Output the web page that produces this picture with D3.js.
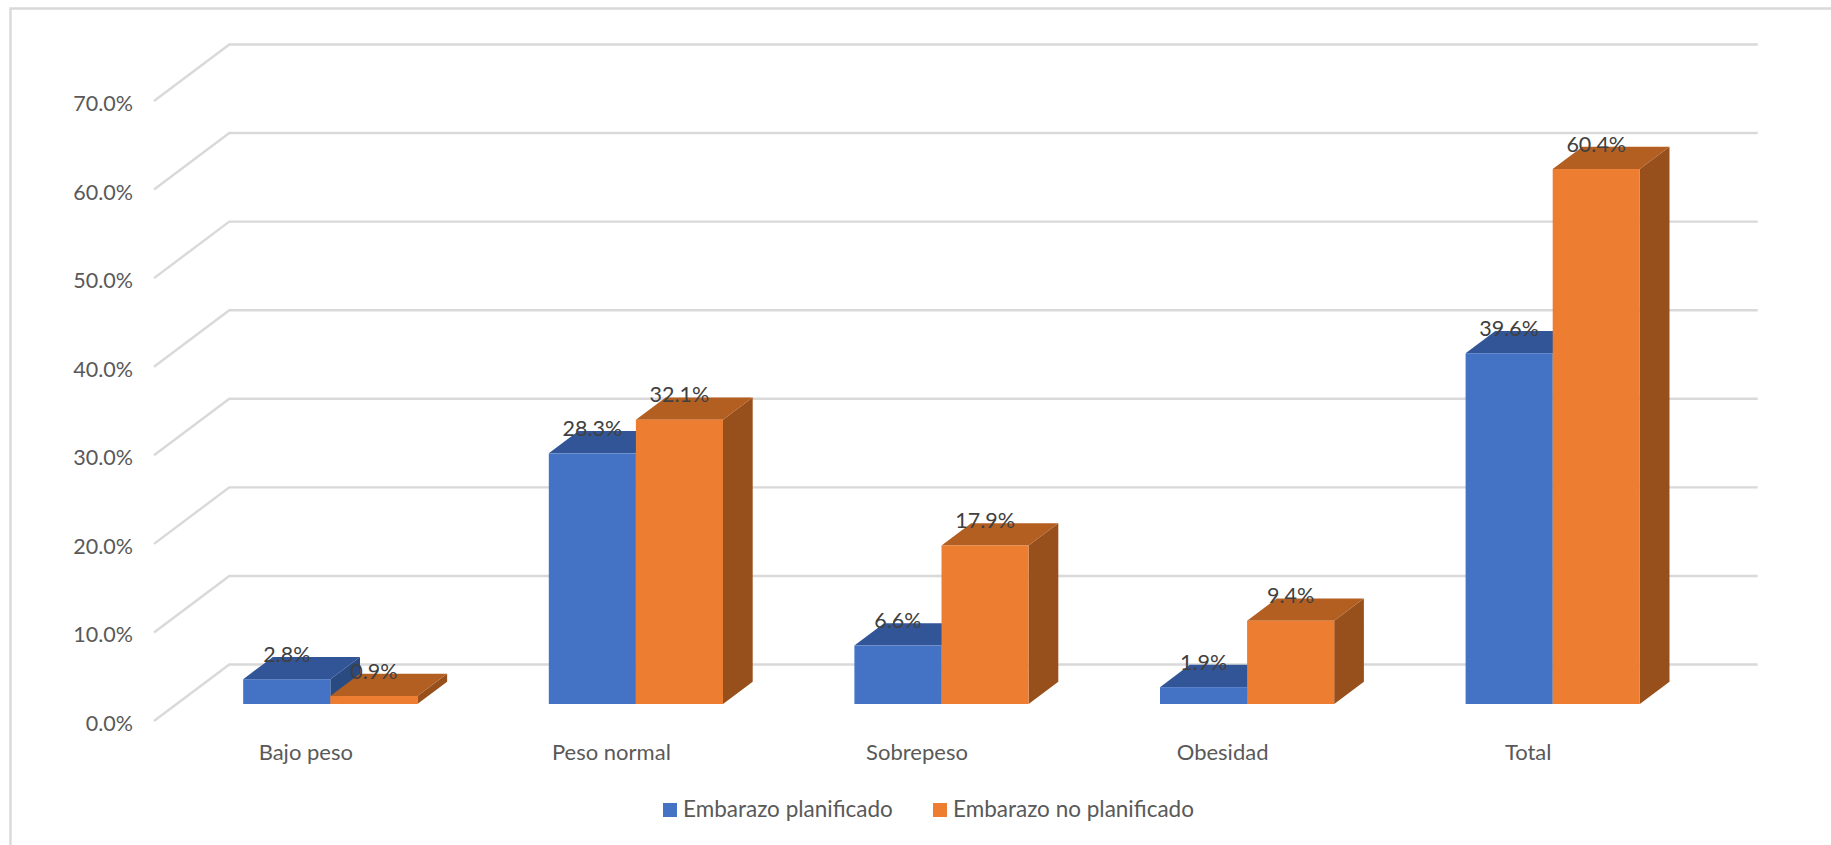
<!DOCTYPE html>
<html><head><meta charset="utf-8">
<script src="https://cdnjs.cloudflare.com/ajax/libs/d3/7.8.5/d3.min.js"></script>
<style>html,body{margin:0;padding:0;background:#fff;overflow:hidden}svg{display:block}text{font-family:Lato,"Open Sans",sans-serif}</style>
</head><body><svg id="c" width="1831" height="845"></svg>
<script>
const categories = ["Bajo peso","Peso normal","Sobrepeso","Obesidad","Total"];
const seriesNames = ["Embarazo planificado","Embarazo no planificado"];
const planificado = [2.8,28.3,6.6,1.9,39.6];
const noPlanificado = [0.9,32.1,17.9,9.4,60.4];
const ticks = [0,10,20,30,40,50,60,70];
const fills = [{front:"#4472C4",top:"#325597",side:"#2A4A82"},{front:"#ED7D31",top:"#B45F22",side:"#97501B"}];

const svg = d3.select("#c");
const depthX = 29.7, depthY = 22.3;
const wallDX = 75.3, wallDY = 56.5;

// y gives the front plane of the bars
const y = d3.scaleLinear().domain([0,70]).range([704,84]);
const wallY = v => y(v) - depthY - 17.2;
const x0 = d3.scaleBand().domain(categories).range([177.5,1705.5]);
const barGroupWidth = 174.2;
const x1 = d3.scaleBand().domain([0,1]).range([0,barGroupWidth]);
const barLeft = (cat,s) => x0(cat) + (x0.bandwidth()-barGroupWidth)/2 + x1(s);

// chart frame
svg.append("path").attr("d","M10.5,845V8.5H1831").attr("fill","none").attr("stroke","#d9d9d9").attr("stroke-width",2.4);

// gridlines
const grid = svg.append("g").attr("fill","none").attr("stroke","#d9d9d9").attr("stroke-width",2.4);
ticks.forEach(t=>{
  const yb = wallY(t);
  grid.append("path").attr("d",`M154,${yb+wallDY}L${154+wallDX},${yb}H1757.7`);
});

// value axis labels
svg.append("g").selectAll("text").data(ticks).join("text")
  .attr("x",133).attr("y",d=>y(d)+27)
  .attr("text-anchor","end").attr("font-size",21.5).attr("fill","#595959")
  .text(d=>d3.format(".1f")(d)+"%");

// category labels
svg.append("g").selectAll("text").data(categories).join("text")
  .attr("x",d=>x0(d)+x0.bandwidth()/2-24.5).attr("y",759.5)
  .attr("text-anchor","middle").attr("font-size",22).attr("fill","#595959")
  .text(d=>d);

// bars
const values = [planificado,noPlanificado];
const bars = svg.append("g");
categories.forEach((cat,i)=>{
  [0,1].forEach(s=>{
    const l = barLeft(cat,s), w = x1.bandwidth(), t = y(values[s][i]), b = y(0), c = fills[s];
    bars.append("path").attr("fill",c.side).attr("d",`M${l+w},${t}l${depthX},${-depthY}V${b-depthY}L${l+w},${b}Z`);
    bars.append("path").attr("fill",c.top).attr("d",`M${l},${t}l${depthX},${-depthY}h${w}l${-depthX},${depthY}Z`);
    bars.append("rect").attr("fill",c.front).attr("x",l).attr("y",t).attr("width",w).attr("height",b-t);
  });
});

// data labels
const labels = svg.append("g");
categories.forEach((cat,i)=>{
  [0,1].forEach(s=>{
    labels.append("text").attr("x",barLeft(cat,s)+x1.bandwidth()/2).attr("y",y(values[s][i])-17.3)
      .attr("text-anchor","middle").attr("font-size",21.5).attr("fill","#404040")
      .text(d3.format(".1f")(values[s][i])+"%");
  });
});

// legend
const legendX = [663,933], legendTextX = [683,953];
const legend = svg.append("g");
seriesNames.forEach((n,s)=>{
  legend.append("rect").attr("x",legendX[s]).attr("y",803).attr("width",14).attr("height",14).attr("fill",fills[s].front);
  legend.append("text").attr("x",legendTextX[s]).attr("y",817).attr("font-size",22.5).attr("fill","#595959").text(n);
});
</script></body></html>
